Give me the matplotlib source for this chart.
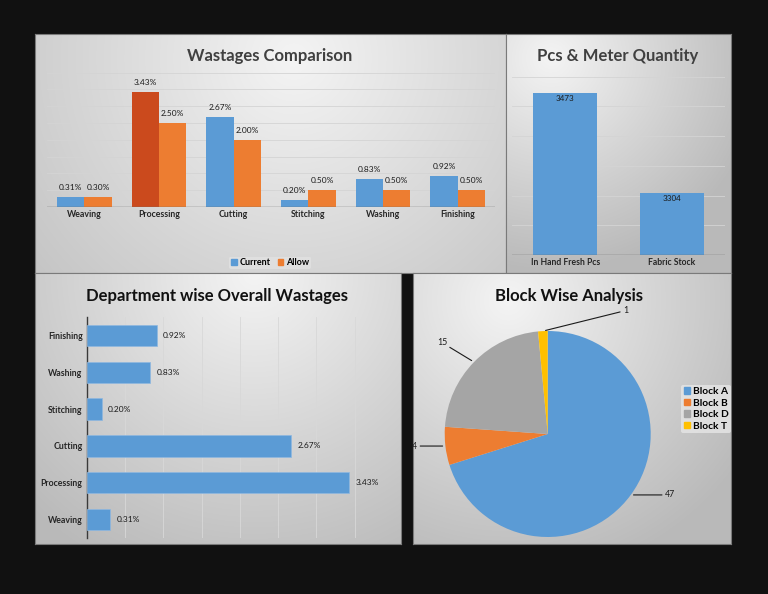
import numpy as np
import matplotlib
matplotlib.use('Agg')
import matplotlib.pyplot as plt
from matplotlib.colors import LinearSegmentedColormap
from matplotlib.patches import Patch

plt.rcParams['font.family'] = ['Lato', 'DejaVu Sans']

# data
departments = ['Weaving', 'Processing', 'Cutting', 'Stitching', 'Washing', 'Finishing']
current = [0.31, 3.43, 2.67, 0.20, 0.83, 0.92]
allow = [0.30, 2.50, 2.00, 0.50, 0.50, 0.50]

qty_labels = ['In Hand Fresh Pcs', 'Fabric Stock']
qty_values = [3473, 3304]

blocks = ['Block A', 'Block B', 'Block D', 'Block T']
block_counts = [47, 4, 15, 1]

BLUE = '#5B9BD5'
ORANGE = '#ED7D31'
RED = '#CB4A1D'
GRAY = '#A5A5A5'
GOLD = '#FFC000'

W, H = 768, 594
fig = plt.figure(figsize=(W / 100, H / 100), dpi=100, facecolor='#111111')


def px(x0, y0, x1, y1):
    return [x0 / W, 1 - y1 / H, (x1 - x0) / W, (y1 - y0) / H]


grad = LinearSegmentedColormap.from_list('g', ['#f4f4f4', '#d6d6d6', '#b9b9b9'])


def panel(x0, y0, x1, y1, cx, cy):
    ax = fig.add_axes(px(x0, y0, x1, y1))
    w, h = int(x1 - x0), int(y1 - y0)
    xx, yy = np.meshgrid(np.linspace(0, 1, w), np.linspace(0, 1, h))
    d = np.sqrt(((xx - cx) * w) ** 2 + ((yy - cy) * h) ** 2) / max(w, h)
    ax.imshow(np.clip(d / 0.9, 0, 1), cmap=grad, vmin=0, vmax=1, aspect='auto',
              extent=[0, 1, 1, 0])
    ax.set_xticks([])
    ax.set_yticks([])
    for s in ax.spines.values():
        s.set_color('#7a7a7a')
        s.set_linewidth(0.8)
    return ax


def clean(ax):
    ax.set_facecolor('none')
    for s in ax.spines.values():
        s.set_visible(False)
    ax.tick_params(length=0)


panel(35, 34, 506, 273, 0.55, 0.1)
panel(506, 34, 731, 273, 0.2, 0.1)
panel(35, 273, 401, 544, 0.6, 0.0)
panel(413, 273, 731, 544, 0.3, 0.1)

# Wastages Comparison
ax1 = fig.add_axes(px(47, 72.7, 495, 207))
clean(ax1)
x = np.arange(len(departments))
bw = 0.366
cur_colors = [RED if d == 'Processing' else BLUE for d in departments]
b1 = ax1.bar(x - bw / 2, current, bw, color=cur_colors, zorder=3)
b2 = ax1.bar(x + bw / 2, allow, bw, color=ORANGE, zorder=3)
ax1.set_xlim(-0.5, len(departments) - 0.5)
ax1.set_ylim(0, 4)
ax1.set_yticks(np.arange(0.5, 4.01, 0.5))
ax1.set_yticklabels([])
ax1.grid(axis='y', color='#d4d4d4', lw=0.6, zorder=0)
ax1.axhline(0, color='#6e6e6e', lw=1.0, zorder=4)
ax1.set_xticks(x)
ax1.set_xticklabels(departments, fontsize=6.3, fontweight='bold', color='#262626')
ax1.tick_params(axis='x', pad=2)
for bars, vals in ((b1, current), (b2, allow)):
    for r, v in zip(bars, vals):
        ax1.annotate(f'{v:.2f}%', (r.get_x() + r.get_width() / 2, r.get_height()),
                     xytext=(0, 6), textcoords='offset pixels', ha='center',
                     va='bottom', fontsize=6, color='#1a1a1a')
fig.text(270 / W, 1 - 56 / H, 'Wastages Comparison', ha='center', va='center',
         fontsize=12, fontweight='bold', color='#404040')
fig.legend(handles=[Patch(color=BLUE, label='Current'), Patch(color=ORANGE, label='Allow')],
           loc='center', bbox_to_anchor=(270 / W, 1 - 263 / H), ncol=2,
           frameon=True, facecolor='#e2e2e2', edgecolor='none', handlelength=0.6,
           handleheight=0.6, handletextpad=0.3, columnspacing=0.8, borderpad=0.2,
           prop={'weight': 'bold', 'size': 6.5})

# Pcs & Meter Quantity
ax2 = fig.add_axes(px(512, 76.7, 725, 255))
clean(ax2)
xq = np.arange(len(qty_labels))
b3 = ax2.bar(xq, qty_values, 0.6, bottom=0, color=BLUE, zorder=3)
ax2.set_xlim(-0.5, 1.5)
ax2.set_ylim(3200, 3500)
ax2.set_yticks(np.arange(3250, 3501, 50))
ax2.set_yticklabels([])
ax2.grid(axis='y', color='#d4d4d4', lw=0.6, zorder=0)
ax2.axhline(3200, color='#6e6e6e', lw=1.0, zorder=4)
ax2.set_xticks(xq)
ax2.set_xticklabels(qty_labels, fontsize=6.2, fontweight='bold', color='#262626')
ax2.tick_params(axis='x', pad=2)
for r, v in zip(b3, qty_values):
    ax2.annotate(str(v), (r.get_x() + r.get_width() / 2, v), xytext=(0, -2),
                 textcoords='offset pixels', ha='center', va='top', fontsize=5.8,
                 color='#1a1a1a')
fig.text(618 / W, 1 - 56 / H, 'Pcs & Meter Quantity', ha='center', va='center',
         fontsize=12, fontweight='bold', color='#404040')

# Department wise Overall Wastages
ax3 = fig.add_axes(px(86.7, 317, 393, 538))
clean(ax3)
yd = np.arange(len(departments))
b4 = ax3.barh(yd, current, 0.58, color=BLUE, edgecolor='#8fb8e0', lw=0.5, zorder=3)
ax3.set_ylim(-0.5, len(departments) - 0.5)
ax3.set_xlim(0, 4)
ax3.set_xticks(np.arange(0.5, 4.01, 0.5))
ax3.set_xticklabels([])
ax3.grid(axis='x', color='#d8d8d8', lw=0.6, zorder=0)
ax3.spines['left'].set_visible(True)
ax3.spines['left'].set_color('#3a3a3a')
ax3.spines['left'].set_linewidth(1.0)
ax3.set_yticks(yd)
ax3.set_yticklabels(departments, fontsize=6.3, fontweight='bold', color='#262626')
ax3.tick_params(axis='y', pad=3)
for r, v in zip(b4, current):
    ax3.annotate(f'{v:.2f}%', (v, r.get_y() + r.get_height() / 2), xytext=(6, 0),
                 textcoords='offset pixels', ha='left', va='center', fontsize=6,
                 color='#1a1a1a')
fig.text(217 / W, 1 - 296 / H, 'Department wise Overall Wastages', ha='center',
         va='center', fontsize=12, fontweight='bold', color='#111111')

# Block Wise Analysis
ax4 = fig.add_axes(px(444.7, 331, 650.7, 537))
ax4.set_facecolor('none')
wedges, _ = ax4.pie(block_counts, colors=[BLUE, ORANGE, GRAY, GOLD], startangle=90,
                    counterclock=False, radius=1)
ax4.set_xlim(-1, 1)
ax4.set_ylim(-1, 1)
ax4.set_aspect('equal')
label_offsets = [(34, 0), (-28, 0), (-27, 15), (80, 16)]
for wdg, n, off in zip(wedges, block_counts, label_offsets):
    ang = np.deg2rad((wdg.theta1 + wdg.theta2) / 2)
    ax4.annotate(str(n), (np.cos(ang), np.sin(ang)), xytext=off,
                 textcoords='offset pixels', ha='left' if off[0] > 0 else 'right',
                 va='center' if off[1] == 0 else 'bottom', fontsize=6.3,
                 color='#1a1a1a', annotation_clip=False,
                 arrowprops=dict(arrowstyle='-', color='#1a1a1a', lw=0.8,
                                 shrinkA=0, shrinkB=2))
fig.text(569 / W, 1 - 296 / H, 'Block Wise Analysis', ha='center', va='center',
         fontsize=12, fontweight='bold', color='#111111')
fig.legend(handles=[Patch(color=c, label=b) for c, b in zip([BLUE, ORANGE, GRAY, GOLD], blocks)],
           loc='center left', bbox_to_anchor=(676 / W, 1 - 409 / H),
           frameon=True, facecolor='#e6e6e6', edgecolor='none', handlelength=0.6,
           handleheight=0.6, handletextpad=0.3, labelspacing=0.25, borderpad=0.25,
           prop={'weight': 'bold', 'size': 7.3})

fig.savefig('out.png', dpi=100, facecolor=fig.get_facecolor())
